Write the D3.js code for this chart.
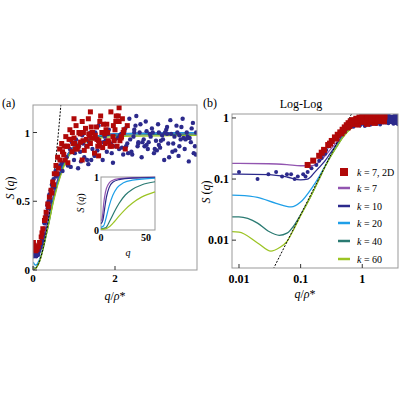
<!DOCTYPE html><html><head><meta charset="utf-8">
<script src="https://cdn.jsdelivr.net/npm/d3@7"></script>
<style>body{margin:0;background:#fff}text{font-family:"Liberation Serif","DejaVu Serif",serif}</style></head><body>
<svg id="c" width="400" height="400"></svg>
<script>
const kLabels=["k = 7","k = 10","k = 20","k = 40","k = 60"];
const kColors=["#9255b0","#2c2a8c","#1e9fe8","#2a7a72","#9cc424"];
const curveK7=[[0.005,0.18],[0.01,0.18],[0.03,0.178],[0.06,0.172],[0.1,0.165],[0.15,0.165],[0.2,0.19],[0.25,0.24],[0.3,0.3],[0.4,0.42],[0.5,0.55],[0.7,0.75],[1,0.9],[1.5,0.97],[2,0.99],[4.5,1]];
const curveK10=[[0.005,0.12],[0.01,0.12],[0.03,0.118],[0.06,0.108],[0.1,0.097],[0.13,0.1],[0.17,0.13],[0.2,0.155],[0.25,0.2],[0.3,0.26],[0.4,0.39],[0.5,0.53],[0.7,0.74],[1,0.9],[1.5,0.97],[2,0.99],[4.5,1]];
const curveK20=[[0.005,0.055],[0.01,0.054],[0.02,0.05],[0.04,0.04],[0.07,0.035],[0.1,0.042],[0.15,0.07],[0.2,0.11],[0.25,0.165],[0.3,0.23],[0.4,0.37],[0.5,0.52],[0.7,0.73],[1,0.9],[1.5,0.97],[2,0.99],[4.5,1]];
const curveK40=[[0.005,0.024],[0.01,0.024],[0.02,0.019],[0.03,0.014],[0.045,0.012],[0.06,0.013],[0.08,0.018],[0.1,0.026],[0.15,0.055],[0.2,0.1],[0.25,0.16],[0.3,0.225],[0.4,0.36],[0.5,0.51],[0.7,0.72],[1,0.89],[1.5,0.96],[2,0.98],[4.5,0.99]];
const curveK60=[[0.005,0.014],[0.01,0.0135],[0.02,0.009],[0.033,0.0066],[0.045,0.0075],[0.06,0.0095],[0.08,0.016],[0.1,0.025],[0.15,0.055],[0.2,0.1],[0.25,0.16],[0.3,0.225],[0.4,0.36],[0.5,0.5],[0.7,0.71],[1,0.88],[1.5,0.95],[2,0.97],[4.5,0.98]];
const curves=[curveK7,curveK10,curveK20,curveK40,curveK60];
const insetK7=[[0,0.18],[1,0.2],[2,0.32],[3,0.5],[5,0.72],[8,0.86],[12,0.93],[20,0.97],[40,0.99],[60,1]];
const insetK10=[[0,0.12],[2,0.18],[4,0.4],[6,0.62],[9,0.8],[13,0.9],[20,0.95],[35,0.98],[60,0.99]];
const insetK20=[[0,0.05],[3,0.08],[6,0.25],[9,0.45],[13,0.65],[18,0.8],[25,0.89],[35,0.94],[60,0.98]];
const insetK40=[[0,0.02],[5,0.04],[10,0.18],[15,0.35],[20,0.5],[27,0.66],[35,0.77],[45,0.85],[60,0.91]];
const insetK60=[[0,0.01],[5,0.02],[10,0.07],[15,0.16],[20,0.26],[27,0.39],[35,0.51],[45,0.62],[60,0.72]];
const insets=[insetK7,insetK10,insetK20,insetK40,insetK60];
const blueX=[0.01,0.03,0.05,0.07,0.09,0.11,0.13,0.15,0.18,0.2,0.23,0.26,0.28,0.3,0.33,0.35,0.38,0.4,0.43,0.46,0.5,0.55,0.6,0.65,0.7,0.75,0.8,0.85,0.9,0.95,1.0,1.05,1.1,1.15,1.2,1.25,1.3,1.35,1.4,1.45,1.5,1.55,1.6,1.65,1.7,1.75,1.8,1.85,1.9,1.95,2.0,2.05,2.1,2.15,2.2,2.25,2.3,2.35,2.4,2.45,2.5,2.55,2.6,2.65,2.7,2.75,2.8,2.85,2.9,2.95,3.0,3.05,3.1,3.15,3.2,3.25,3.3,3.35,3.4,3.45,3.5,3.55,3.6,3.65,3.7,3.75,3.8,3.85,3.9,3.95,3.98,
2.02,2.22,2.42,2.62,2.82,3.02,3.22,3.42,3.62,3.82,2.12,2.32,2.52,2.72,2.92,3.12,3.32,3.52,3.72,3.92,1.12,1.32,1.52,1.72,1.92,0.92,0.72,0.62,0.52,0.02,0.04,0.06,0.08,0.12,
2.07,2.27,2.47,2.67,2.87,3.07,3.27,3.47,3.67,3.87,2.17,2.37,2.57,2.77,2.97,3.17,3.37,3.57,3.77,3.97,1.02,1.22,1.42,1.62,1.82,0.82,0.97,1.17,1.37,1.57,1.77,2.57,2.77,3.07,3.57,3.77,3.27,2.47,0.32,0.36,0.42,0.48,0.56,0.66,0.22,0.25];
const blueY=[0.13,0.12,0.11,0.12,0.11,0.12,0.13,0.15,0.17,0.2,0.25,0.3,0.34,0.38,0.42,0.47,0.5,0.55,0.58,0.62,0.66,0.72,0.75,0.8,0.78,0.85,0.9,0.76,0.88,0.93,0.8,0.95,0.74,0.86,0.98,0.82,0.9,0.77,1.0,0.88,0.83,0.95,1.05,0.9,0.8,0.97,0.86,1.02,0.92,0.78,0.95,1.08,0.88,0.99,0.84,1.03,0.92,1.1,0.86,0.97,1.05,0.9,1.0,0.82,0.95,1.08,0.88,0.99,1.03,0.85,0.94,1.06,0.89,0.98,0.8,1.02,0.92,1.09,0.86,0.97,1.05,0.83,0.95,1.1,0.88,1.0,0.79,0.93,1.07,0.9,1.0,
0.9,1.0,0.84,1.06,0.93,0.87,1.0,0.92,1.04,0.96,0.98,0.85,1.12,0.9,1.0,0.94,0.82,1.0,0.95,0.85,0.9,0.8,1.0,0.93,0.85,0.75,0.72,0.7,0.6,0.1,0.13,0.12,0.1,0.11,
0.96,0.9,1.0,0.93,0.97,0.91,0.99,0.87,0.96,1.03,0.89,0.95,0.92,1.01,0.88,0.95,0.99,0.9,0.97,0.84,0.85,0.92,0.8,0.94,0.99,0.82,0.86,0.79,0.93,0.87,0.94,0.93,0.91,1.0,0.98,0.96,1.04,1.02,0.4,0.45,0.5,0.6,0.68,0.76,0.22,0.26];
const redX=[0.01,0.04,0.07,0.1,0.13,0.16,0.2,0.24,0.28,0.32,0.36,0.4,0.44,0.48,0.52,0.56,0.6,0.65,0.7,0.75,0.8,0.85,0.9,0.95,1.0,1.05,1.1,1.15,1.2,1.25,1.3,1.35,1.4,1.45,1.5,1.55,1.6,1.65,1.7,1.75,1.8,1.85,1.9,1.95,2.0,2.05,2.1,2.15,2.2,2.25,2.3,1.0,1.2,0.85,1.6,2.1,1.4,0.78,0.98,1.18,1.38,1.58,1.78,1.98,2.18,0.88,1.08,1.28,1.48,1.68,1.88,2.08,
0.72,0.82,0.92,1.02,1.12,1.22,1.32,1.42,1.52,1.62,1.72,1.82,1.92,2.02,2.12,2.22,0.76,0.96,1.16,1.36,1.56,1.76,1.96,2.16,1.03,1.23,1.43,1.63,1.83,2.03,0.66,0.62,0.58,0.5,0.46,0.38,0.3,0.22,0.06,0.03];
const redY=[0.2,0.16,0.14,0.15,0.17,0.2,0.24,0.3,0.36,0.42,0.48,0.53,0.58,0.64,0.7,0.76,0.82,0.88,0.92,0.84,0.97,0.9,1.02,0.86,0.96,1.05,0.9,0.99,1.08,0.87,0.95,1.1,0.92,1.0,0.85,1.04,0.94,1.12,0.89,0.99,1.06,0.93,1.15,0.97,1.02,0.9,1.08,0.96,1.0,0.88,1.05,1.1,0.8,0.78,0.83,1.18,1.15,0.8,0.92,1.0,0.98,0.9,1.02,0.94,1.1,0.95,0.88,1.03,0.96,1.0,0.9,1.12,
0.86,0.9,0.95,0.92,1.0,0.94,0.9,1.04,0.98,0.92,1.06,1.0,0.9,1.08,0.94,1.02,0.9,1.0,0.93,0.99,0.95,0.92,1.05,0.97,0.88,1.0,0.96,1.08,0.94,1.12,0.8,0.74,0.7,0.62,0.56,0.46,0.38,0.27,0.15,0.18];
const aXTicks=[0,2], aYTicks=[0,0.5,1], bXTicks=[0.01,0.1,1], bYTicks=[0.01,0.1,1];
const insetXTicks=[0,50], insetYTicks=[0,1];

const svg=d3.select("#c");
const red="#b00808", navy="#2c2a8c";
// panel a
const xa=d3.scaleLinear([0,4],[33,197]), ya=d3.scaleLinear([0,1.2],[270,105]);
const ga=svg.append("g");
ga.append("defs").append("clipPath").attr("id","ca").append("rect").attr("x",33).attr("y",105).attr("width",164).attr("height",165);
const pa=ga.append("g").attr("clip-path","url(#ca)");
const la=d3.line().x(d=>xa(d[0])).y(d=>ya(d[1])).curve(d3.curveMonotoneX);
curves.forEach((c,i)=>pa.append("path").attr("d",la(c)).attr("fill","none").attr("stroke",kColors[i]).attr("stroke-width",1.3));
pa.append("path").attr("d",la(d3.range(0,0.72,0.02).map(q=>[q,2.6*q*q]))).attr("fill","none").attr("stroke","#000").attr("stroke-dasharray","2,1.5").attr("stroke-width",1);
blueX.forEach((x,i)=>pa.append("circle").attr("cx",xa(x)).attr("cy",ya(blueY[i])).attr("r",2.2).attr("fill",navy));
redX.forEach((x,i)=>pa.append("rect").attr("x",xa(x)-2.5).attr("y",ya(redY[i])-2.5).attr("width",5).attr("height",5).attr("fill",red));
ga.append("rect").attr("x",33).attr("y",105).attr("width",164).attr("height",165).attr("fill","none").attr("stroke","#999");
aXTicks.forEach(t=>{ga.append("line").attr("x1",xa(t)).attr("x2",xa(t)).attr("y1",270).attr("y2",266).attr("stroke","#333");ga.append("text").attr("x",xa(t)).attr("y",282).attr("text-anchor","middle").attr("font-size",11).attr("font-weight","bold").text(t);});
aYTicks.forEach(t=>{ga.append("line").attr("x1",33).attr("x2",37).attr("y1",ya(t)).attr("y2",ya(t)).attr("stroke","#333");ga.append("text").attr("x",30).attr("y",ya(t)+4).attr("text-anchor","end").attr("font-size",11).attr("font-weight","bold").text(t);});
ga.append("text").attr("x",115).attr("y",300).attr("text-anchor","middle").attr("font-size",12).html('<tspan font-style="italic">q</tspan>/<tspan font-style="italic">ρ</tspan>*');
ga.append("text").attr("transform","translate(14,188) rotate(-90)").attr("text-anchor","middle").attr("font-size",12).html('<tspan font-style="italic">S</tspan> (<tspan font-style="italic">q</tspan>)');
ga.append("text").attr("x",2).attr("y",107).attr("font-size",12).attr("font-family","Liberation Sans").text("(a)");
// inset
const xi=d3.scaleLinear([0,60],[101,155]), yi=d3.scaleLinear([0,1],[230,177]);
const gi=svg.append("g");
gi.append("rect").attr("x",101).attr("y",177).attr("width",54).attr("height",53).attr("fill","#fff").attr("stroke","#999");
const li=d3.line().x(d=>xi(d[0])).y(d=>yi(d[1])).curve(d3.curveMonotoneX);
insets.forEach((c,i)=>gi.append("path").attr("d",li(c)).attr("fill","none").attr("stroke",kColors[i]).attr("stroke-width",1.2));
insetXTicks.forEach(t=>gi.append("text").attr("x",xi(t)).attr("y",241).attr("text-anchor","middle").attr("font-size",10).attr("font-weight","bold").text(t));
insetYTicks.forEach(t=>gi.append("text").attr("x",99).attr("y",yi(t)+4).attr("text-anchor","end").attr("font-size",10).attr("font-weight","bold").text(t));
gi.append("text").attr("x",128).attr("y",256).attr("text-anchor","middle").attr("font-size",10).attr("font-style","italic").text("q");
gi.append("text").attr("transform","translate(84,203) rotate(-90)").attr("text-anchor","middle").attr("font-size",10).html('<tspan font-style="italic">S</tspan> (<tspan font-style="italic">q</tspan>)');
// panel b
const xb=d3.scaleLog([0.0077,3.8],[232,398]), yb=d3.scaleLog([0.0035,1.16],[268,114]);
const gb=svg.append("g");
gb.append("defs").append("clipPath").attr("id","cb").append("rect").attr("x",232).attr("y",114).attr("width",166).attr("height",154);
const pb=gb.append("g").attr("clip-path","url(#cb)");
const lb=d3.line().x(d=>xb(d[0])).y(d=>yb(d[1])).curve(d3.curveMonotoneX);
curves.forEach((c,i)=>pb.append("path").attr("d",lb(c)).attr("fill","none").attr("stroke",kColors[i]).attr("stroke-width",1.3));
pb.append("path").attr("d",d3.line().x(d=>xb(d[0])).y(d=>yb(d[1]))([[0.02,2.6*0.0004],[1,2.6]])).attr("fill","none").attr("stroke","#000").attr("stroke-dasharray","2,1.5").attr("stroke-width",1);
blueX.forEach((x,i)=>pb.append("circle").attr("cx",xb(x)).attr("cy",yb(blueY[i])).attr("r",2).attr("fill",navy));
redX.forEach((x,i)=>{if(x>=0.12)pb.append("rect").attr("x",xb(x)-3).attr("y",yb(redY[i])-3).attr("width",6).attr("height",6).attr("fill",red);});
gb.append("rect").attr("x",232).attr("y",114).attr("width",166).attr("height",154).attr("fill","none").attr("stroke","#999");
bXTicks.forEach(t=>{gb.append("line").attr("x1",xb(t)).attr("x2",xb(t)).attr("y1",268).attr("y2",264).attr("stroke","#333");gb.append("text").attr("x",xb(t)).attr("y",283).attr("text-anchor","middle").attr("font-size",12).attr("font-weight","bold").text(t);});
bYTicks.forEach(t=>{gb.append("line").attr("x1",232).attr("x2",236).attr("y1",yb(t)).attr("y2",yb(t)).attr("stroke","#333");gb.append("text").attr("x",229).attr("y",yb(t)+4).attr("text-anchor","end").attr("font-size",12).attr("font-weight","bold").text(t);});
gb.append("text").attr("x",305).attr("y",298).attr("text-anchor","middle").attr("font-size",12).html('<tspan font-style="italic">q</tspan>/<tspan font-style="italic">ρ</tspan>*');
gb.append("text").attr("transform","translate(210,192) rotate(-90)").attr("text-anchor","middle").attr("font-size",12).html('<tspan font-style="italic">S</tspan> (<tspan font-style="italic">q</tspan>)');
gb.append("text").attr("x",301).attr("y",108).attr("text-anchor","middle").attr("font-size",12).text("Log-Log");
gb.append("text").attr("x",203).attr("y",107).attr("font-size",12).attr("font-family","Liberation Sans").text("(b)");
// legend
const legY=[172,188,206,223,241,259];
gb.append("rect").attr("x",340).attr("y",legY[0]-4).attr("width",8).attr("height",8).attr("fill",red);
gb.append("text").attr("x",357).attr("y",legY[0]+4).attr("font-size",10).html('<tspan font-style="italic">k</tspan> = 7, 2D');
kLabels.forEach((l,i)=>{const y=legY[i+1];
 gb.append("line").attr("x1",338).attr("x2",350).attr("y1",y).attr("y2",y).attr("stroke",kColors[i]).attr("stroke-width",2.5);
 gb.append("text").attr("x",357).attr("y",y+4).attr("font-size",10).html('<tspan font-style="italic">k</tspan>'+l.slice(1));});
</script></body></html>
